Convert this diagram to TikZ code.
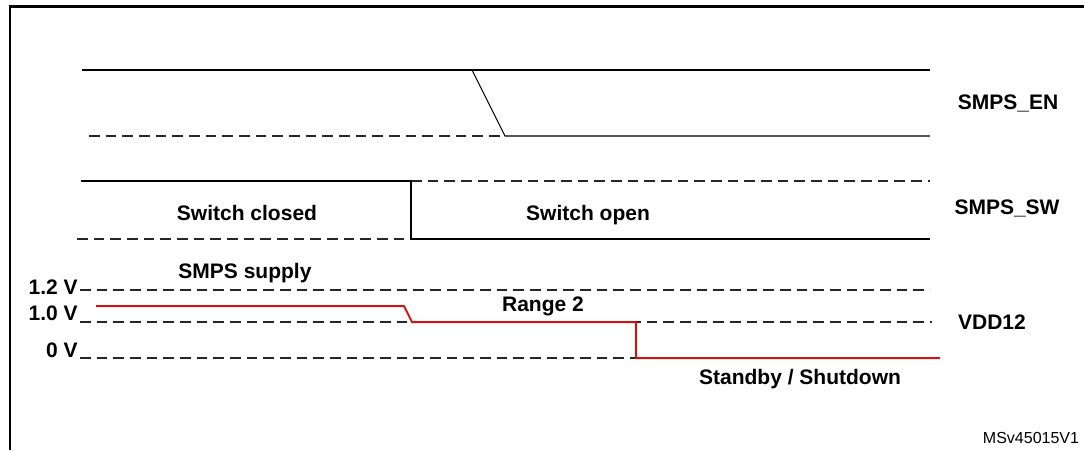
\documentclass[tikz,border=0pt]{standalone}
\usepackage{fontspec}
\setmainfont{Liberation Sans}
\usetikzlibrary{positioning}
\definecolor{vddred}{RGB}{204,20,20}
\tikzset{
    %signal traces
    sig/.style={
      draw=black, line width=0.8pt},
    lvl/.style={
      draw=black!85, line width=0.8pt,
      dash pattern=on 8pt off 4.5pt},
    vdd/.style={
      draw=vddred, line width=1.5pt},
    lbl/.style={
      inner sep=0pt,
      font=\fontsize{15.75}{18}\selectfont\bfseries},
    volt/.style={
      lbl, anchor=base east},
}
\begin{document}
\begin{tikzpicture}[x=0.75pt,y=-0.75pt]
    \useasboundingbox (0,0) rectangle (1084,450);
    \draw [line width=1.6pt] (10,450) -- (10,6.5) -- (1084,6.5);

    % SMPS_EN
    \coordinate (en0) at (82,70);
    \coordinate (en1) at (472,70);
    \coordinate (en2) at (930,70);
    \coordinate (en3) at (505,136);
    \coordinate (en4) at (930,136);
    \coordinate (enlo) at (89,136);
    \draw [sig] (en0) -- (en2);
    \draw [sig] (en1) -- (en3) -- (en4);
    \draw [lvl] (enlo) -- (en3);
    \node (smpsen) [lbl] at (1008,103) {SMPS\_EN};

    % SMPS_SW
    \coordinate (sw0) at (81,181);
    \coordinate (sw1) at (411,181);
    \coordinate (sw2) at (411,239);
    \coordinate (sw3) at (930,239);
    \coordinate (swlo) at (77,239);
    \coordinate (swhi) at (930,181);
    \draw [lvl] (sw1) -- (swhi);
    \draw [lvl] (swlo) -- (sw2);
    \draw [sig] (sw0) -- (sw1) -- (sw2) -- (sw3);
    \node (closed) [lbl] at (247,213) {Switch closed};
    \node (open) [lbl] at (588,215) {Switch open};
    \node (smpssw) [lbl] at (1007,208) {SMPS\_SW};

    % VDD12
    \coordinate (l12a) at (80,290);
    \coordinate (l12b) at (930,290);
    \coordinate (l10a) at (80,322);
    \coordinate (l10b) at (932,322);
    \coordinate (l0a) at (80,358);
    \coordinate (l0b) at (636,358);
    \draw [lvl] (l12a) -- (l12b);
    \draw [lvl] (l10a) -- (l10b);
    \draw [lvl] (l0a) -- (l0b);
    \node (v12) [volt] at (78,294.5) {1.2 V};
    \node (v10) [volt] at (78,320.5) {1.0 V};
    \node (v0) [volt] at (78,357) {0 V};
    \coordinate (r0) at (96,306);
    \coordinate (r1) at (404,306);
    \coordinate (r2) at (412,322);
    \coordinate (r3) at (636,322);
    \coordinate (r4) at (636,358);
    \coordinate (r5) at (940,358);
    \draw [vdd] (r0) -- (r1) -- (r2) -- (r3) -- (r4) -- (r5);
    \node (supply) [lbl] at (245,273) {SMPS supply};
    \node (range) [lbl] at (543,306) {Range 2};
    \node (vdd12) [lbl] at (992,322) {VDD12};
    \node (stby) [lbl] at (800,379) {Standby / Shutdown};

    \node (ref) [inner sep=0pt, font=\fontsize{12}{14}\selectfont] at (1031,438) {MSv45015V1};
\end{tikzpicture}
\end{document}
